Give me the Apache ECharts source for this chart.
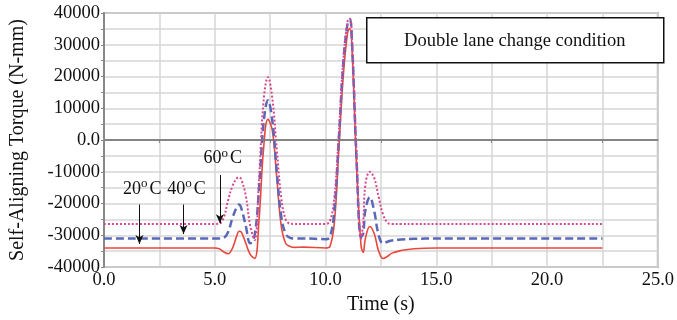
<!DOCTYPE html>
<html>
<head>
<meta charset="utf-8">
<script src="https://cdn.jsdelivr.net/npm/echarts@6/dist/echarts.min.js"></script>
<style>
  html, body { margin: 0; padding: 0; background: #fff; }
  #container-torque { width: 677px; height: 320px; }
</style>
</head>
<body>
<div id="container-torque"></div>
<script>
// time in seconds, shared by the three curves
var time = [0, 5.0, 5.2, 5.4, 5.6, 5.8, 6.0, 6.1, 6.2, 6.4, 6.6, 6.8, 7.0, 7.2, 7.4, 7.6, 7.8, 8.0, 8.2, 8.4, 8.6, 9.0,
  10.0, 10.2, 10.4, 10.6, 10.8, 11.0, 11.1, 11.2, 11.4, 11.6, 11.7, 11.8, 12.0, 12.2, 12.4, 12.6, 12.8, 13.0, 13.4, 14.0, 15.0, 22.5];

var torque20 = [-34000, -34000, -34200, -35200, -35800, -34000, -30000, -28700, -29000, -32500, -36000, -37300, -25000, -3000, 6500, 3000, -12000, -27000, -32500, -33500, -33800, -33700,
  -34000, -33500, -26000, -3000, 20000, 34000, 35200, 28000, -8000, -33000, -35400, -31000, -27200, -29500, -35000, -37300, -36600, -35600, -34800, -34200, -34000, -34000];

var torque40 = [-31000, -31000, -31000, -30800, -29000, -24500, -21000, -20300, -21500, -27000, -32500, -30000, -15000, 5000, 12500, 6000, -10000, -24000, -29500, -30800, -31000, -31000,
  -31200, -30500, -22000, 0, 24000, 37000, 38000, 30000, -6000, -30500, -29500, -22000, -18000, -22500, -30000, -32500, -32000, -31600, -31300, -31100, -31000, -31000];

var torque60 = [-26400, -26400, -26300, -24500, -19000, -14500, -12000, -11700, -12500, -17500, -27000, -31500, -12000, 12000, 19800, 13000, -3000, -18000, -25000, -26300, -26400, -26400,
  -26400, -25500, -18000, 2000, 25000, 37500, 38200, 31000, -4000, -31000, -26000, -14000, -10000, -12000, -18000, -23500, -26000, -26400, -26400, -26400, -26400, -26400];

// arrow annotations: label, x, arrow start y, arrow tip y, label anchor [x, y]
var notes = [
  {name: '20', x: 1.6, from: -20300, to: -32700, label: [1.73, -19000]},
  {name: '40', x: 3.59, from: -20300, to: -29600, label: [3.72, -19000]},
  {name: '60', x: 5.23, from: -11000, to: -26200, label: [5.36, -9400]}
];

var font = 'Liberation Serif, Times New Roman, serif';

function pairs(ys) {
  var out = [];
  for (var i = 0; i < time.length; i++) {
    out.push([time[i], ys[i]]);
  }
  return out;
}

var dom = document.getElementById('container-torque');
var myChart = echarts.init(dom);

var arrowLines = notes.map(function (n) {
  return [{coord: [n.x, n.from]}, {coord: [n.x, n.to]}];
});

var option = {
  animation: false,
  grid: {
    left: 99, right: 14, top: 13, bottom: 48,
    show: true,
    borderColor: '#a8a8a8',
    borderWidth: 2
  },
  xAxis: {
    type: 'value',
    min: 0, max: 25, interval: 5,
    name: 'Time (s)',
    nameLocation: 'middle',
    nameGap: 24,
    nameTextStyle: {fontFamily: font, fontSize: 20, color: '#111'},
    axisLine: {show: true, lineStyle: {color: '#a8a8a8', width: 2}},
    axisTick: {show: false},
    minorTick: {show: true, splitNumber: 2, length: 3, lineStyle: {color: '#888'}},
    axisLabel: {
      fontFamily: font, fontSize: 18.5, color: '#111', margin: 4,
      formatter: function (v) { return v.toFixed(1); }
    },
    splitLine: {show: true, lineStyle: {color: '#d6d6d6', width: 1.5}},
    minorSplitLine: {show: true, lineStyle: {color: '#d6d6d6', width: 1.5}}
  },
  yAxis: {
    type: 'value',
    min: -40000, max: 40000, interval: 10000,
    name: 'Self-Aligning Torque (N-mm)',
    nameLocation: 'middle',
    nameGap: 76,
    nameTextStyle: {fontFamily: font, fontSize: 20, color: '#111'},
    axisLine: {show: true, lineStyle: {color: '#888', width: 2}},
    axisTick: {show: true, length: 3, inside: false, lineStyle: {color: '#888'}},
    minorTick: {show: true, splitNumber: 2, length: 3, lineStyle: {color: '#888'}},
    axisLabel: {
      fontFamily: font, fontSize: 18.5, color: '#111', margin: 4,
      formatter: function (v) { return v === 0 ? '0.0' : String(v); }
    },
    splitLine: {show: true, lineStyle: {color: '#d6d6d6', width: 1.5}},
    minorSplitLine: {show: true, lineStyle: {color: '#d6d6d6', width: 1.5}}
  },
  series: [
    {
      name: '20\u00b0C',
      type: 'line',
      data: pairs(torque20),
      smooth: 0.4,
      showSymbol: false,
      lineStyle: {color: '#e8483c', width: 1.6},
      markLine: {
        silent: true,
        symbol: ['none', 'none'],
        label: {show: false},
        lineStyle: {color: '#7a7a7a', type: 'solid', width: 1.5},
        data: [{yAxis: 0}]
      }
    },
    {
      name: '40\u00b0C',
      type: 'line',
      data: pairs(torque40),
      smooth: 0.4,
      showSymbol: false,
      lineStyle: {color: '#5a68b8', width: 2.5, type: [8, 4]}
    },
    {
      name: '60\u00b0C',
      type: 'line',
      data: pairs(torque60),
      smooth: 0.4,
      showSymbol: false,
      lineStyle: {color: '#d8468c', width: 2, type: [2, 2]},
      markLine: {
        silent: true,
        symbol: ['none', 'arrow'],
        symbolSize: [6, 9],
        label: {show: false},
        lineStyle: {color: '#111', type: 'solid', width: 1},
        data: arrowLines
      }
    }
  ]
};

myChart.setOption(option, true);

// temperature labels and the condition box
var graphics = notes.map(function (n) {
  var p = myChart.convertToPixel({gridIndex: 0}, n.label);
  return {
    type: 'text',
    x: p[0], y: p[1],
    style: {
      text: n.name + '{s|o}C',
      fontFamily: font, fontSize: 18, fill: '#111',
      align: 'center', verticalAlign: 'bottom',
      rich: {s: {fontFamily: font, fontSize: 13, verticalAlign: 'top', padding: [0, 2, 10, 0]}}
    }
  };
});

graphics.push({
  type: 'group',
  left: 366, top: 17,
  children: [
    {type: 'rect', shape: {x: 0, y: 0, width: 297, height: 45},
      style: {fill: '#fff', stroke: '#111', lineWidth: 1.5}},
    {type: 'text', x: 148, y: 23,
      style: {text: 'Double lane change condition', fontFamily: font, fontSize: 18.5, fill: '#111',
        align: 'center', verticalAlign: 'middle'}}
  ]
});

myChart.setOption({graphic: graphics});
</script>
</body>
</html>
